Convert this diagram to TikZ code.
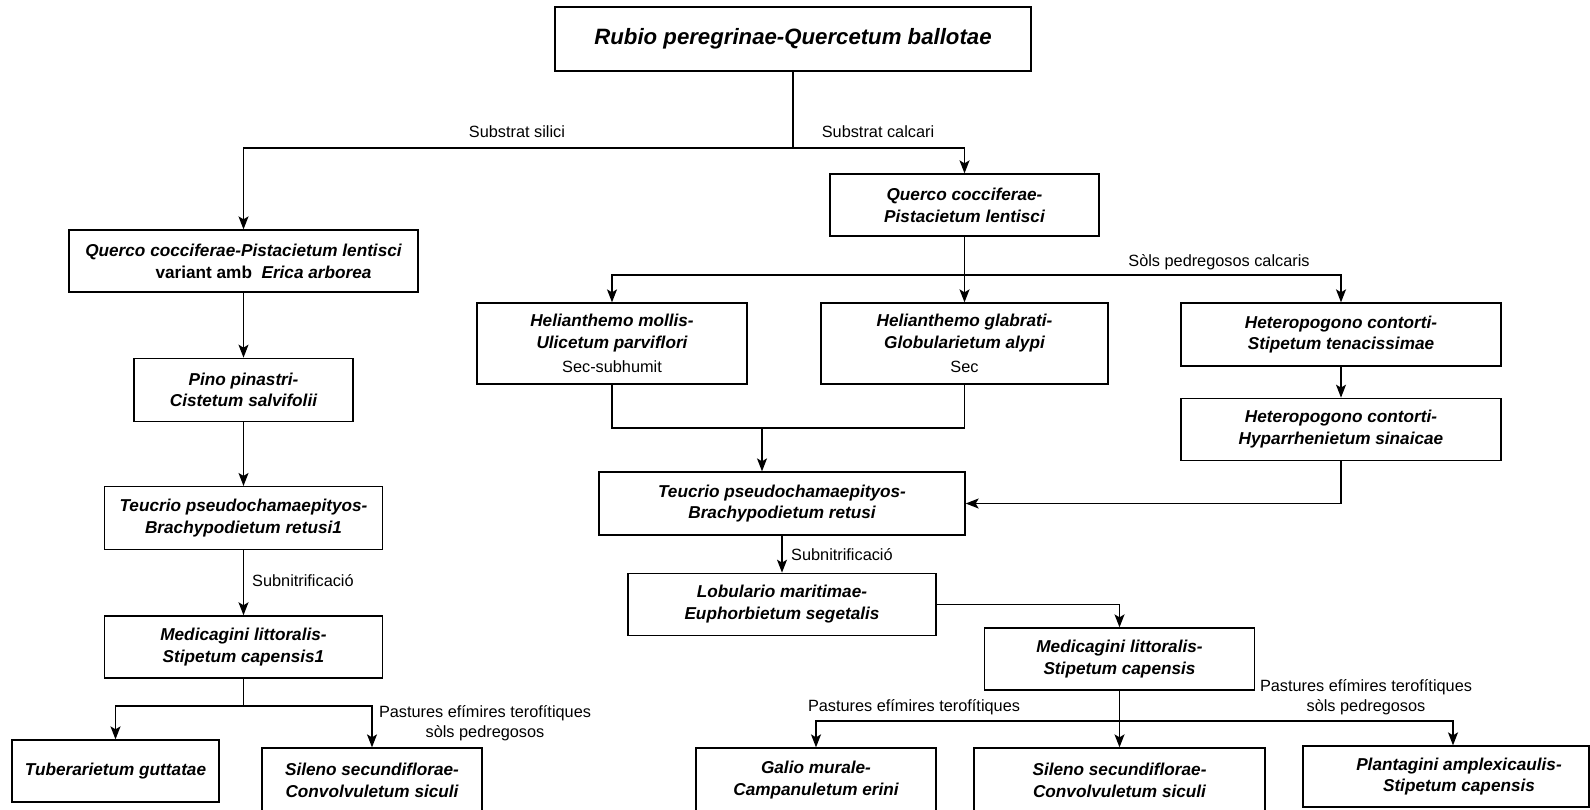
\documentclass[tikz,border=0pt]{standalone}
\usepackage{fontspec}
\setmainfont{Liberation Sans}
\usepackage{tikz}
\usetikzlibrary{arrows.meta,positioning}

\newcommand{\taxonfont}{\fontsize{17.2}{21.7}\selectfont\bfseries\itshape}
\newcommand{\lblfont}{\fontsize{16.3}{19.6}\selectfont}
\newcommand{\titlefont}{\fontsize{22.2}{26}\selectfont\bfseries\itshape}

\begin{document}
\begin{tikzpicture}[
    x=1pt, y=-1pt,
    node distance=60pt,
    taxbox/.style={draw, rectangle, align=center, inner sep=0pt, line width=1.3pt, font=\taxonfont},
    lbl/.style={font=\lblfont, inner sep=0pt, align=center},
    myedge/.style={line width=1.3pt},
    myarrow/.style={-{Stealth[length=13pt,width=10pt,inset=3pt]}, line width=1.3pt}
]
\useasboundingbox (0,0) rectangle (1590,809);

\node[taxbox, font=\titlefont, minimum width=476pt, minimum height=64pt] (rubio) at (793,39) {Rubio peregrinae-Quercetum ballotae};

\node[taxbox, minimum width=349pt, minimum height=62pt] (quercoA) at (243.5,261) {Querco cocciferae-Pistacietum lentisci\\\hspace*{40pt}{\upshape variant amb}\hspace{0.55em}Erica arborea};
\node[taxbox, minimum width=219pt, minimum height=63pt] (pino) [below=65pt of quercoA] {Pino pinastri-\\Cistetum salvifolii};
\node[taxbox, minimum width=278pt, minimum height=63pt] (teucrioA) [below=64pt of pino] {Teucrio pseudochamaepityos-\\Brachypodietum retusi1};
\node[taxbox, minimum width=278pt, minimum height=62pt] (medicaginiA) [below=65pt of teucrioA] {Medicagini littoralis-\\Stipetum capensis1};
\node[taxbox, minimum width=207pt, minimum height=62pt] (tuberarietum) at (115.5,771) {Tuberarietum guttatae};
\node[taxbox, minimum width=220pt, minimum height=64pt] (silenoA) at (372,780) {Sileno secundiflorae-\\Convolvuletum siculi};

\node[taxbox, minimum width=269pt, minimum height=62pt] (quercoB) at (964.5,205) {Querco cocciferae-\\Pistacietum lentisci};
\node[taxbox, minimum width=270pt, minimum height=81pt] (helianthemoM) at (612,343.5) {Helianthemo mollis-\\Ulicetum parviflori\\[3pt]{\lblfont\mdseries\upshape Sec-subhumit}};
\node[taxbox, minimum width=287pt, minimum height=81pt] (helianthemoG) at (964.5,343.5) {Helianthemo glabrati-\\Globularietum alypi\\[3pt]{\lblfont\mdseries\upshape Sec}};
\node[taxbox, minimum width=320pt, minimum height=63pt] (heteroA) at (1341,334.5) {Heteropogono contorti-\\Stipetum tenacissimae};
\node[taxbox, minimum width=320pt, minimum height=62pt] (heteroB) [below=31pt of heteroA] {Heteropogono contorti-\\Hyparrhenietum sinaicae};
\node[taxbox, minimum width=366pt, minimum height=63pt] (teucrioB) at (782,503.5) {Teucrio pseudochamaepityos-\\Brachypodietum retusi};
\node[taxbox, minimum width=308pt, minimum height=62pt] (lobulario) [below=37pt of teucrioB] {Lobulario maritimae-\\Euphorbietum segetalis};
\node[taxbox, minimum width=270pt, minimum height=62pt] (medicaginiB) at (1119.5,659) {Medicagini littoralis-\\Stipetum capensis};
\node[taxbox, minimum width=240pt, minimum height=64pt] (galio) at (816,780) {Galio murale-\\Campanuletum erini};
\node[taxbox, minimum width=291pt, minimum height=64pt] (silenoB) at (1119.5,780) {Sileno secundiflorae-\\Convolvuletum siculi};
\node[taxbox, minimum width=286pt, minimum height=61pt] (plantagini) at (1446,776.5) {\hspace*{26pt}Plantagini amplexicaulis-\\\hspace*{26pt}Stipetum capensis};

\node[lbl] (silici) at (517,132) {Substrat silici};
\node[lbl] (calcari) at (878,132) {Substrat calcari};
\node[lbl, anchor=west] (subnitA) at (252,581) {Subnitrificació};
\node[lbl] (pasturesA) at (485,723) {Pastures efímires terofítiques\\sòls pedregosos};
\node[lbl] (calcaris) at (1219,262) {Sòls pedregosos calcaris};
\node[lbl, anchor=west] (subnitB) at (791,555) {Subnitrificació};
\node[lbl] (pasturesB) at (914,707) {Pastures efímires terofítiques};
\node[lbl] (pasturesC) at (1366,697) {Pastures efímires terofítiques\\sòls pedregosos};

\coordinate (splitRubio) at (793,148);
\coordinate (splitMedA) at (243.5,706);
\coordinate (splitQuercoB) at (964.5,275);
\coordinate (mergeHel) at (762,428);
\coordinate (splitMedB) at (1119.5,721);

\draw[myedge] (rubio.south) -- (splitRubio);
\draw[myarrow] (splitRubio) -| (quercoA.north);
\draw[myarrow] (splitRubio) -| (quercoB.north);

\draw[myarrow] (quercoA) -- (pino);
\draw[myarrow] (pino) -- (teucrioA);
\draw[myarrow] (teucrioA) -- (medicaginiA);
\draw[myedge] (medicaginiA.south) -- (splitMedA);
\draw[myarrow] (splitMedA) -| (tuberarietum.north);
\draw[myarrow] (splitMedA) -| (silenoA.north);

\draw[myedge] (quercoB.south) -- (splitQuercoB);
\draw[myarrow] (splitQuercoB) -| (helianthemoM.north);
\draw[myarrow] (splitQuercoB) -- (helianthemoG.north);
\draw[myarrow] (splitQuercoB) -| (heteroA.north);
\draw[myedge] (helianthemoM.south) |- (mergeHel) -| (helianthemoG.south);
\draw[myarrow] (mergeHel) -- (mergeHel |- teucrioB.north);
\draw[myarrow] (heteroA) -- (heteroB);
\draw[myarrow] (heteroB.south) |- (teucrioB.east);

\draw[myarrow] (teucrioB) -- (lobulario);
\draw[myarrow] (lobulario.east) -| (medicaginiB.north);
\draw[myedge] (medicaginiB.south) -- (splitMedB);
\draw[myarrow] (splitMedB) -| (galio.north);
\draw[myarrow] (splitMedB) -- (silenoB.north);
\draw[myarrow] (splitMedB) -| ([xshift=7pt]plantagini.north);
\end{tikzpicture}
\end{document}
